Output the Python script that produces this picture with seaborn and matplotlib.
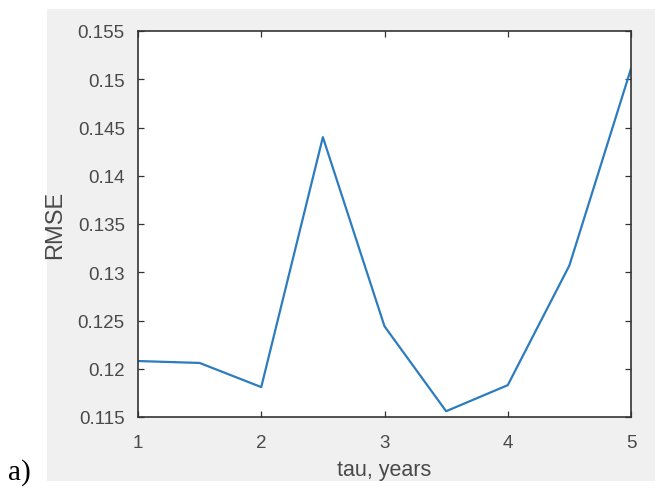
import matplotlib
matplotlib.use("Agg")
import matplotlib.pyplot as plt
from matplotlib.patches import Rectangle
from matplotlib.ticker import FuncFormatter
import seaborn as sns
import pandas as pd

# RMSE as a function of the time constant tau
tau_years = [1.0, 1.5, 2.0, 2.5, 3.0, 3.5, 4.0, 4.5, 5.0]
rmse = [0.1208, 0.1206, 0.1181, 0.1440, 0.1244, 0.1156, 0.1183, 0.1307, 0.1511]
x_ticks = [1, 2, 3, 4, 5]
y_ticks = [0.115, 0.12, 0.125, 0.13, 0.135, 0.14, 0.145, 0.15, 0.155]

sns.set_style("white")
plt.rcParams["font.family"] = ["Liberation Sans", "DejaVu Sans"]

df = pd.DataFrame({"tau": tau_years, "RMSE": rmse})

fig = plt.figure(figsize=(6.55, 4.89), dpi=100, facecolor="white")
# light grey figure panel behind the axes
panel = Rectangle((47 / 655, 1 - 482 / 489), (655 - 47) / 655, (482 - 10) / 489,
                  transform=fig.transFigure, facecolor="#f0f0f0",
                  edgecolor="none", zorder=-10)
fig.patches.append(panel)

ax = fig.add_axes([138 / 655, 1 - 418 / 489, (631 - 138) / 655, (418 - 32) / 489])
ax.set_zorder(1)
ax.set_facecolor("white")
sns.lineplot(data=df, x="tau", y="RMSE", ax=ax, color="#2c7cbf", linewidth=1.6)

ax.set_xlim(1, 5)
ax.set_ylim(0.115, 0.155)
ax.set_xticks(x_ticks)
ax.set_yticks(y_ticks)
ax.yaxis.set_major_formatter(FuncFormatter(lambda v, p: f"{v:g}"))

text_col = "#4a4a4a"
for side in ["left", "right", "top", "bottom"]:
    ax.spines[side].set_visible(True)
    ax.spines[side].set_color("#333333")
    ax.spines[side].set_linewidth(1.2)
ax.tick_params(direction="in", length=4, width=0.9, color="#333333",
               top=True, right=True, bottom=True, left=True,
               labelsize=13.5, labelcolor=text_col)
ax.tick_params(axis="x", pad=12)
ax.tick_params(axis="y", pad=9.5)

ax.set_xlabel("tau, years", fontsize=15.5, color=text_col, va="top")
ax.xaxis.set_label_coords(0.5, -0.108)
ax.set_ylabel("RMSE", fontsize=17, color=text_col, va="center")
ax.yaxis.set_label_coords(-0.168, 0.5)

fig.text(8 / 655, 1 - 486 / 489, "a)", family=["Liberation Serif", "DejaVu Serif"],
         fontsize=21, color="black", ha="left", va="bottom")

fig.savefig("out.png", dpi=100, facecolor="white")
